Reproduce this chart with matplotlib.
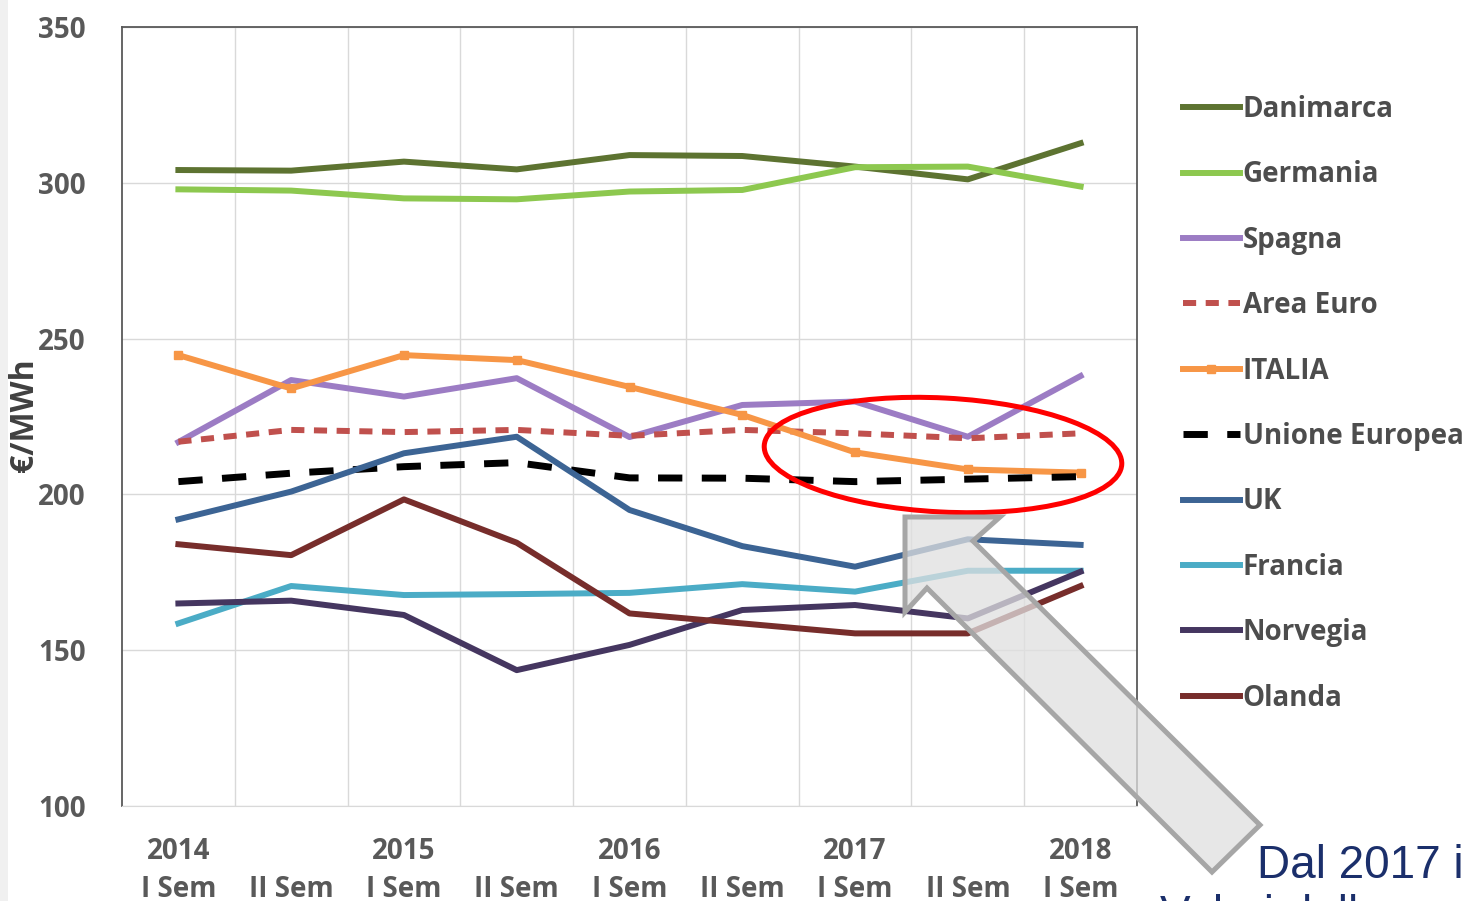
import numpy as np
import matplotlib
matplotlib.use('Agg')
import matplotlib.pyplot as plt
from matplotlib.patches import Ellipse, Polygon, Rectangle

plt.rcParams['font.family'] = ['Open Sans', 'DejaVu Sans']

# semester labels
years = ['2014', '', '2015', '', '2016', '', '2017', '', '2018']
sems = ['I Sem', 'II Sem', 'I Sem', 'II Sem', 'I Sem', 'II Sem', 'I Sem', 'II Sem', 'I Sem']

# prices, EUR/MWh
danimarca = [304.1, 303.9, 306.8, 304.3, 308.9, 308.6, 305.2, 301.1, 312.7]
germania = [297.9, 297.5, 295.0, 294.7, 297.2, 297.7, 305.0, 305.2, 298.8]
spagna = [216.8, 236.7, 231.4, 237.3, 218.4, 228.7, 229.8, 218.5, 238.0]
area_euro = [216.9, 220.7, 220.0, 220.7, 218.8, 220.7, 219.6, 218.0, 219.6]
italia = [244.7, 234.0, 244.7, 243.1, 234.5, 225.5, 213.5, 208.0, 207.0]
unione_europea = [204.1, 206.8, 208.9, 210.2, 205.3, 205.2, 204.1, 204.9, 205.7]
uk = [192.0, 200.9, 213.2, 218.5, 195.0, 183.4, 176.8, 185.6, 183.8]
francia = [158.6, 170.6, 167.7, 168.0, 168.4, 171.2, 168.8, 175.5, 175.5]
norvegia = [165.0, 165.9, 161.3, 143.6, 151.7, 162.9, 164.5, 160.2, 175.2]
olanda = [184.0, 180.5, 198.4, 184.5, 161.8, 158.6, 155.4, 155.4, 170.6]

W, H = 1468, 901
fig = plt.figure(figsize=(W / 100, H / 100), dpi=100)
fig.patch.set_facecolor('white')

ax = fig.add_axes([122 / W, 1 - 806 / H, (1137 - 122) / W, (806 - 27) / H])
x = np.arange(len(sems))

lw = 4.3
ax.plot(x, danimarca, color='#5d7331', lw=lw, label='Danimarca')
ax.plot(x, germania, color='#8dc84f', lw=lw, label='Germania')
ax.plot(x, spagna, color='#9c7cc4', lw=lw, label='Spagna')
ax.plot(x, area_euro, color='#c0504d', lw=lw, ls=(0, (2.2, 1.6)), label='Area Euro')
ax.plot(x, italia, color='#f79646', lw=lw, marker='s', ms=6, label='ITALIA')
ax.plot(x, unione_europea, color='black', lw=5, ls=(0, (3.5, 2.8)), label='Unione Europea')
ax.plot(x, uk, color='#3c6494', lw=lw, label='UK')
ax.plot(x, francia, color='#4bacc6', lw=lw, label='Francia')
ax.plot(x, norvegia, color='#453660', lw=lw, label='Norvegia')
ax.plot(x, olanda, color='#772d2b', lw=lw, label='Olanda')

ax.set_xlim(-0.5, 8.5)
ax.set_ylim(100, 350)
ax.set_yticks([100, 150, 200, 250, 300, 350])
ax.set_xticks(x)
ax.set_xticklabels([y + '\n' + s for y, s in zip(years, sems)], linespacing=1.45)
ax.set_xticks(np.arange(0.5, 8.5, 1), minor=True)
ax.grid(True, which='minor', axis='x', color='#d9d9d9', lw=1)
ax.grid(True, which='major', axis='y', color='#d9d9d9', lw=1)
ax.set_axisbelow(True)
ax.tick_params(axis='both', which='both', length=0)
ax.tick_params(axis='y', pad=26, labelsize=20, labelcolor='#595959')
ax.tick_params(axis='x', pad=22, labelsize=20, labelcolor='#595959')
for lab in ax.get_xticklabels() + ax.get_yticklabels():
    lab.set_fontweight('bold')
for s in ['left', 'right', 'top']:
    ax.spines[s].set_color('#595959')
    ax.spines[s].set_linewidth(1.3)
ax.spines['bottom'].set_color('#d9d9d9')

fig.text(25 / W, 1 - 415 / H, '€/MWh', rotation=90, ha='center', va='center',
         fontsize=23, fontweight='bold', color='#404040')

leg = ax.legend(loc='upper left', bbox_to_anchor=(1183 / W, 1 - 95 / H),
                bbox_transform=fig.transFigure, frameon=False, borderpad=0,
                borderaxespad=0, handlelength=2.05, handletextpad=0.1,
                labelspacing=1.31, prop={'size': 20, 'weight': 'bold'})
for t in leg.get_texts():
    t.set_color('#4d4d4d')

# overlay in pixel coordinates for the slide annotations
ov = fig.add_axes([0, 0, 1, 1])
ov.set_xlim(0, W)
ov.set_ylim(H, 0)
ov.axis('off')
ov.patch.set_alpha(0)

ov.add_patch(Rectangle((0, 0), 8, H, color='#f0f0f0', lw=0))
ov.add_patch(Ellipse((943, 455), 358, 114, angle=3, fill=False, ec='#ff0000', lw=3.6))
arrow = [(905, 517), (1000, 517), (973, 541), (1260, 825), (1212, 872),
         (927, 588), (905, 612)]
ov.add_patch(Polygon(arrow, closed=True, fc=(0.88, 0.88, 0.88, 0.75),
                     ec='#a6a6a6', lw=3.6, joinstyle='miter'))

ov.text(1257, 878, 'Dal 2017 i', fontsize=33, color='#1b2f6b',
        family='Liberation Sans', va='baseline', ha='left')
ov.text(1160, 928, 'Valori della', fontsize=33, color='#1b2f6b',
        family='Liberation Sans', va='baseline', ha='left')

fig.savefig('out.png', dpi=100)
